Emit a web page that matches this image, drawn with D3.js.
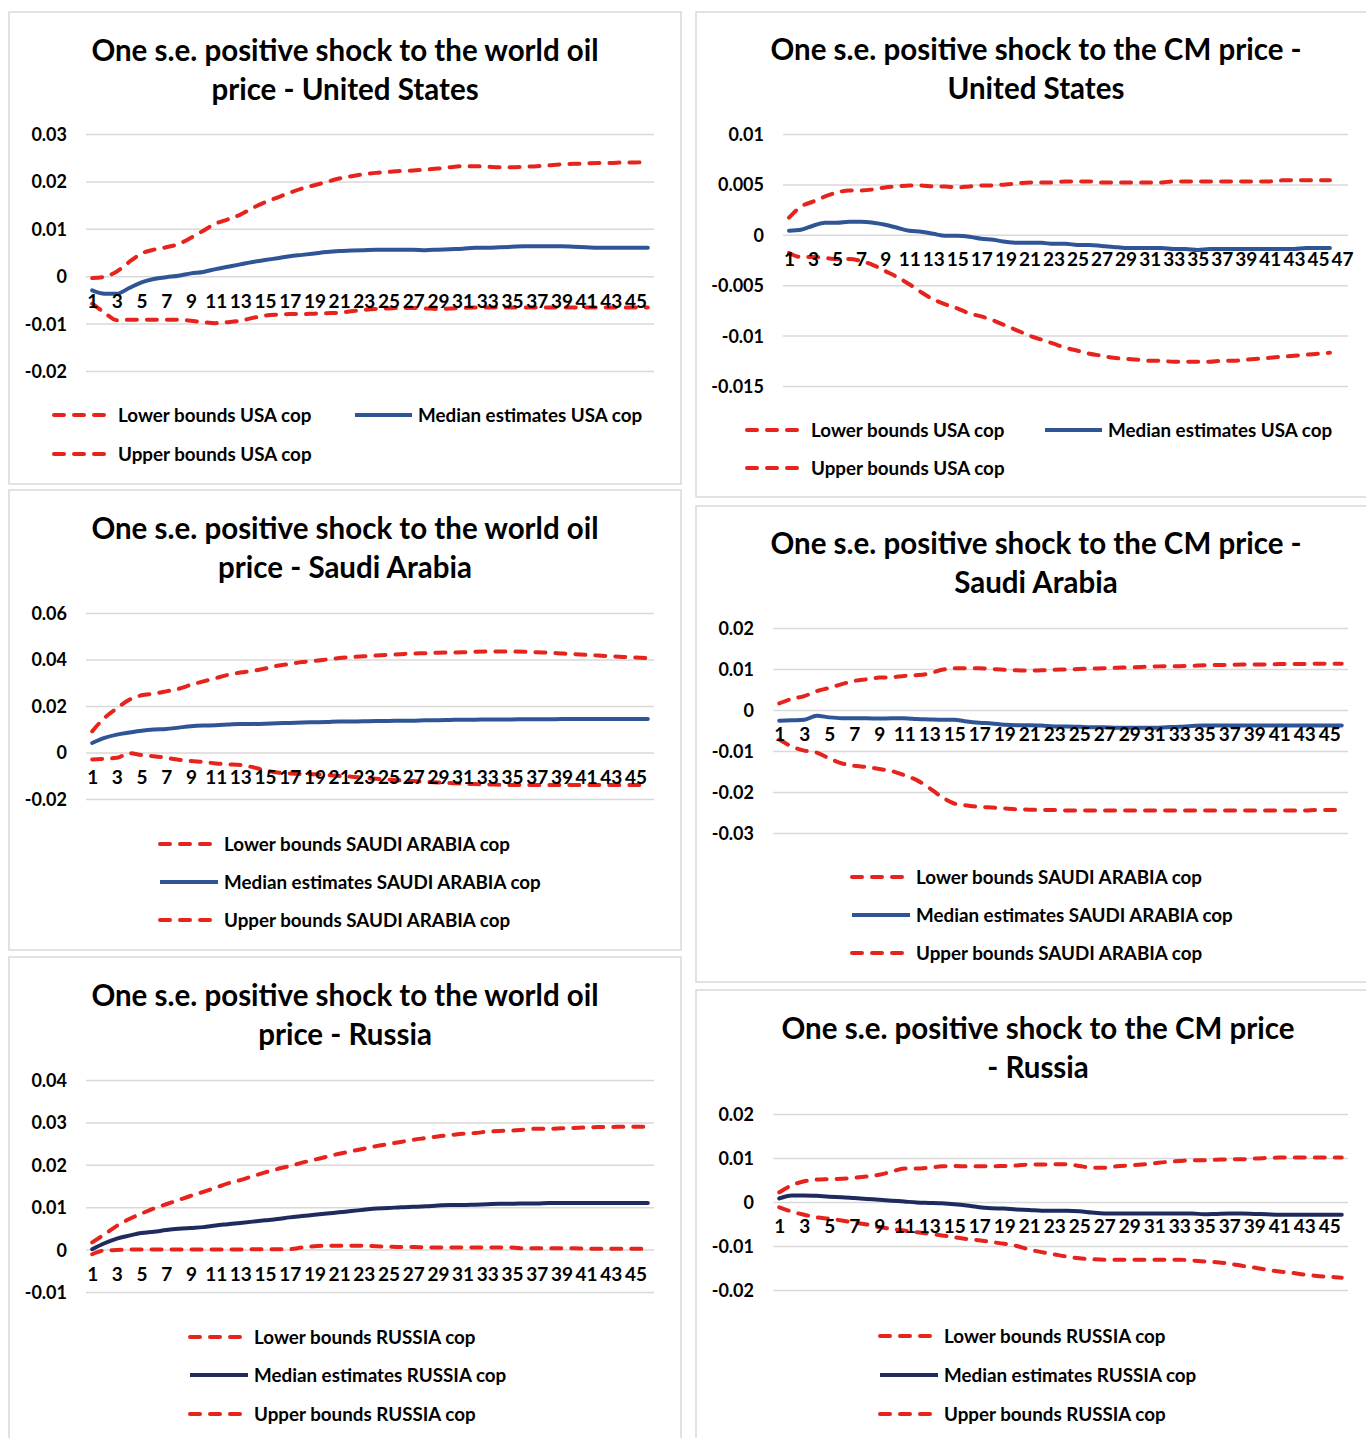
<!DOCTYPE html>
<html>
<head>
<meta charset="utf-8">
<title>Impulse responses - oil and CM price shocks</title>
<script src="https://d3js.org/d3.v7.min.js"></script>
<style>
    body { margin: 0; background: #fff; }
    svg text { font-family: Lato, "Open Sans", sans-serif; font-weight: bold; fill: #000; }
    .frame { fill: #fff; stroke: #d9d9d9; stroke-width: 1.5; }
    .grid line { stroke: #d9d9d9; stroke-width: 1.5; }
    .title { font-size: 29.5px; }
    .ytick { font-size: 18px; }
    .xtick { font-size: 19px; }
    .legend text { font-size: 18.8px; }
</style>
</head>
<body>
<svg id="chart" width="1366" height="1438"></svg>
<script>
// periods 1..46 (the CM / United States panel has a 47-slot axis)
const periods46 = d3.range(1, 47);
const periods47 = d3.range(1, 48);

// world oil shock - United States
const usOilLower = [-0.0058,-0.0077,-0.0093,-0.0092,-0.0092,-0.0092,-0.0092,-0.0092,-0.0094,-0.0097,
    -0.0099,-0.0097,-0.0094,-0.0088,-0.0083,-0.0081,-0.008,-0.008,-0.0079,-0.0078,
    -0.0077,-0.0074,-0.0071,-0.0069,-0.0068,-0.0067,-0.0067,-0.0068,-0.0069,-0.0068,
    -0.0067,-0.0066,-0.0066,-0.0066,-0.0066,-0.0066,-0.0066,-0.0066,-0.0066,-0.0066,
    -0.0066,-0.0066,-0.0066,-0.0066,-0.0066,-0.0066];
const usOilMedian = [-0.003,-0.0037,-0.0037,-0.0025,-0.0013,-0.0006,-0.0002,0.0001,0.0006,0.0009,
    0.0015,0.002,0.0025,0.003,0.0034,0.0038,0.0042,0.0045,0.0048,0.0051,
    0.0053,0.0054,0.0055,0.0056,0.0056,0.0056,0.0056,0.0055,0.0056,0.0057,
    0.0058,0.006,0.006,0.0061,0.0062,0.0063,0.0063,0.0063,0.0063,0.0062,
    0.0061,0.006,0.006,0.006,0.006,0.006];
const usOilUpper = [-0.0004,-0.0001,0.001,0.003,0.0048,0.0056,0.0061,0.0068,0.0081,0.0096,
    0.0111,0.012,0.013,0.0144,0.0156,0.0166,0.0176,0.0185,0.0192,0.0199,
    0.0206,0.0211,0.0215,0.0218,0.022,0.0222,0.0223,0.0225,0.0227,0.023,
    0.0232,0.0232,0.0231,0.023,0.023,0.0231,0.0232,0.0234,0.0236,0.0237,
    0.0238,0.0239,0.0239,0.024,0.024,0.0241];

// CM price shock - United States
const usCmLower = [-0.0018,-0.0022,-0.0022,-0.0023,-0.0024,-0.0024,-0.0026,-0.003,-0.0036,-0.0042,
    -0.0049,-0.0057,-0.0064,-0.0069,-0.0073,-0.0078,-0.0081,-0.0085,-0.009,-0.0095,
    -0.01,-0.0104,-0.0108,-0.0112,-0.0115,-0.0118,-0.012,-0.0122,-0.0123,-0.0124,
    -0.0125,-0.0125,-0.0126,-0.0126,-0.0126,-0.0126,-0.0125,-0.0125,-0.0124,-0.0123,
    -0.0122,-0.0121,-0.012,-0.0119,-0.0118,-0.0117];
const usCmMedian = [0.0004,0.0005,0.0009,0.0012,0.0012,0.0013,0.0013,0.0012,0.001,0.0007,
    0.0004,0.0003,0.0001,-0.0001,-0.0001,-0.0002,-0.0004,-0.0005,-0.0007,-0.0008,
    -0.0008,-0.0008,-0.0009,-0.0009,-0.001,-0.001,-0.0011,-0.0012,-0.0013,-0.0013,
    -0.0013,-0.0013,-0.0014,-0.0014,-0.0015,-0.0014,-0.0014,-0.0014,-0.0014,-0.0014,
    -0.0014,-0.0014,-0.0014,-0.0013,-0.0013,-0.0013];
const usCmUpper = [0.0017,0.0028,0.0033,0.0038,0.0042,0.0044,0.0044,0.0045,0.0047,0.0048,
    0.0049,0.0049,0.0048,0.0048,0.0047,0.0048,0.0049,0.0049,0.005,0.0051,
    0.0052,0.0052,0.0052,0.0053,0.0053,0.0053,0.0052,0.0052,0.0052,0.0052,
    0.0052,0.0052,0.0053,0.0053,0.0053,0.0053,0.0053,0.0053,0.0053,0.0053,
    0.0053,0.0054,0.0054,0.0054,0.0054,0.0054];

// world oil shock - Saudi Arabia
const saOilLower = [-0.003,-0.0027,-0.0023,-0.0003,-0.0011,-0.0016,-0.0023,-0.0031,-0.0037,-0.0041,
    -0.0047,-0.0051,-0.0054,-0.0063,-0.0077,-0.0086,-0.009,-0.0093,-0.0094,-0.0097,
    -0.0101,-0.0104,-0.0109,-0.0113,-0.0117,-0.012,-0.0123,-0.0126,-0.0129,-0.0131,
    -0.0134,-0.0136,-0.0137,-0.0139,-0.014,-0.014,-0.014,-0.014,-0.014,-0.014,
    -0.014,-0.014,-0.014,-0.014,-0.014,-0.014];
const saOilMedian = [0.0041,0.0063,0.0077,0.0086,0.0094,0.0099,0.0101,0.0107,0.0113,0.0116,
    0.0117,0.012,0.0123,0.0123,0.0124,0.0126,0.0127,0.0129,0.013,0.0131,
    0.0133,0.0133,0.0134,0.0136,0.0136,0.0137,0.0137,0.0139,0.0139,0.014,
    0.0141,0.0141,0.0142,0.0142,0.0142,0.0143,0.0143,0.0143,0.0144,0.0144,
    0.0144,0.0144,0.0144,0.0144,0.0144,0.0144];
const saOilUpper = [0.0091,0.0149,0.019,0.0227,0.0246,0.0253,0.0263,0.0274,0.0291,0.0306,
    0.032,0.0334,0.0344,0.0351,0.0361,0.0373,0.0381,0.0389,0.0394,0.04,
    0.0406,0.041,0.0414,0.0417,0.042,0.0423,0.0426,0.0427,0.0429,0.043,
    0.0431,0.0433,0.0434,0.0434,0.0434,0.0433,0.0431,0.0429,0.0426,0.0423,
    0.042,0.0417,0.0414,0.0411,0.0409,0.0406];

// CM price shock - Saudi Arabia
const saCmLower = [-0.0072,-0.0089,-0.0099,-0.0104,-0.0118,-0.013,-0.0136,-0.0139,-0.0144,-0.0149,
    -0.0159,-0.0171,-0.019,-0.0212,-0.0228,-0.0233,-0.0236,-0.0238,-0.024,-0.0242,
    -0.0243,-0.0244,-0.0244,-0.0245,-0.0245,-0.0245,-0.0245,-0.0245,-0.0245,-0.0245,
    -0.0245,-0.0245,-0.0245,-0.0245,-0.0245,-0.0245,-0.0245,-0.0245,-0.0245,-0.0245,
    -0.0245,-0.0245,-0.0245,-0.0244,-0.0244,-0.0244];
const saCmMedian = [-0.0026,-0.0025,-0.0024,-0.0014,-0.0018,-0.002,-0.002,-0.002,-0.0021,-0.002,
    -0.002,-0.0022,-0.0023,-0.0024,-0.0024,-0.0028,-0.0031,-0.0033,-0.0036,-0.0037,
    -0.0037,-0.0038,-0.004,-0.004,-0.0041,-0.0042,-0.0042,-0.0043,-0.0043,-0.0043,
    -0.0043,-0.0042,-0.0041,-0.0039,-0.0038,-0.0038,-0.0038,-0.0038,-0.0038,-0.0038,
    -0.0038,-0.0038,-0.0038,-0.0038,-0.0038,-0.0038];
const saCmUpper = [0.0016,0.0027,0.0034,0.0046,0.0054,0.0063,0.0071,0.0075,0.0079,0.008,
    0.0083,0.0085,0.0089,0.0098,0.0102,0.0102,0.0102,0.01,0.0098,0.0097,
    0.0096,0.0097,0.0098,0.0099,0.01,0.0101,0.0102,0.0103,0.0104,0.0105,
    0.0106,0.0107,0.0107,0.0108,0.0109,0.011,0.011,0.0111,0.0111,0.0111,
    0.0112,0.0112,0.0112,0.0113,0.0113,0.0113];

// world oil shock - Russia
const ruOilLower = [-0.0011,-0.0002,-0.0001,0,0,0,0,0,0,0,
    0,0,0,0.0001,0.0001,0.0001,0.0001,0.0005,0.0008,0.0009,
    0.0009,0.0009,0.0009,0.0008,0.0007,0.0006,0.0006,0.0005,0.0005,0.0005,
    0.0005,0.0005,0.0005,0.0005,0.0005,0.0003,0.0003,0.0003,0.0003,0.0003,
    0.0002,0.0002,0.0002,0.0002,0.0002,0.0001];
const ruOilMedian = [0.0001,0.0015,0.0026,0.0033,0.0039,0.0042,0.0046,0.0049,0.0051,0.0053,
    0.0057,0.006,0.0063,0.0066,0.0069,0.0072,0.0076,0.0079,0.0082,0.0085,
    0.0088,0.0091,0.0094,0.0097,0.0098,0.01,0.0101,0.0102,0.0104,0.0105,
    0.0105,0.0106,0.0107,0.0108,0.0108,0.0109,0.0109,0.011,0.011,0.011,
    0.011,0.011,0.011,0.011,0.011,0.011];
const ruOilUpper = [0.0017,0.0036,0.0056,0.0072,0.0085,0.0097,0.0107,0.0117,0.0127,0.0136,
    0.0146,0.0156,0.0164,0.0173,0.0182,0.019,0.0197,0.0205,0.0212,0.0219,
    0.0226,0.0232,0.0238,0.0244,0.0249,0.0254,0.0259,0.0263,0.0267,0.027,
    0.0273,0.0275,0.0278,0.028,0.0281,0.0283,0.0285,0.0285,0.0286,0.0287,
    0.0288,0.0289,0.0289,0.029,0.029,0.029];

// CM price shock - Russia
const ruCmLower = [-0.0012,-0.0022,-0.0029,-0.0035,-0.0038,-0.0042,-0.0047,-0.0051,-0.0057,-0.0061,
    -0.0065,-0.0069,-0.0072,-0.0076,-0.008,-0.0084,-0.0087,-0.0091,-0.0095,-0.01,
    -0.0108,-0.0114,-0.0119,-0.0124,-0.0128,-0.013,-0.0131,-0.0131,-0.0131,-0.0131,
    -0.0131,-0.0131,-0.0131,-0.0133,-0.0135,-0.0137,-0.014,-0.0145,-0.0149,-0.0154,
    -0.0158,-0.0161,-0.0165,-0.0168,-0.017,-0.0172];
const ruCmMedian = [0.0008,0.0015,0.0015,0.0014,0.0012,0.0011,0.0009,0.0007,0.0005,0.0003,
    0.0001,-0.0001,-0.0002,-0.0003,-0.0005,-0.0008,-0.0012,-0.0014,-0.0015,-0.0017,
    -0.0018,-0.002,-0.002,-0.002,-0.0021,-0.0024,-0.0026,-0.0026,-0.0026,-0.0026,
    -0.0026,-0.0026,-0.0026,-0.0026,-0.0028,-0.0027,-0.0026,-0.0026,-0.0027,-0.0028,
    -0.0029,-0.0029,-0.0029,-0.0029,-0.0029,-0.0029];
const ruCmUpper = [0.0022,0.0038,0.0047,0.0051,0.0052,0.0053,0.0055,0.0058,0.0062,0.0069,
    0.0076,0.0076,0.0078,0.0081,0.0082,0.0081,0.0081,0.0081,0.0082,0.0083,
    0.0085,0.0085,0.0086,0.0086,0.0082,0.0078,0.0078,0.0081,0.0083,0.0085,
    0.0088,0.0091,0.0093,0.0095,0.0095,0.0096,0.0097,0.0097,0.0099,0.01,
    0.0101,0.0101,0.0101,0.0101,0.0101,0.0101];

// y tick labels of each panel
const usOilTicks = [-0.02, -0.01, 0, 0.01, 0.02, 0.03];
const usCmTicks = [-0.015, -0.01, -0.005, 0, 0.005, 0.01];
const saOilTicks = [-0.02, 0, 0.02, 0.04, 0.06];
const saCmTicks = [-0.03, -0.02, -0.01, 0, 0.01, 0.02];
const ruOilTicks = [-0.01, 0, 0.01, 0.02, 0.03, 0.04];
const ruCmTicks = [-0.02, -0.01, 0, 0.01, 0.02];

const red = "#e6231c";
const blue = "#2f5597";
const navy = "#1f2b5e";

const panels = [
    { frame: [9, 12, 672, 472], title: ["One s.e. positive shock to the world oil", "price - United States"], titleX: 345, titleY: 61,
      plot: [86, 134, 654, 371], ticks: usOilTicks, cats: periods46, country: "USA", medianColor: blue,
      series: [usOilLower, usOilMedian, usOilUpper],
      legend: [[52, 415, 118], [353, 415, 418], [52, 454, 118]] },
    { frame: [696, 12, 680, 485], title: ["One s.e. positive shock to the CM price -", "United States"], titleX: 1036, titleY: 60,
      plot: [783, 134, 1348, 386], ticks: usCmTicks, cats: periods47, country: "USA", medianColor: blue,
      series: [usCmLower, usCmMedian, usCmUpper],
      legend: [[745, 430, 811], [1043, 430, 1108], [745, 468, 811]] },
    { frame: [9, 490, 672, 460], title: ["One s.e. positive shock to the world oil", "price - Saudi Arabia"], titleX: 345, titleY: 539,
      plot: [86, 613, 654, 799], ticks: saOilTicks, cats: periods46, country: "SAUDI ARABIA", medianColor: blue,
      series: [saOilLower, saOilMedian, saOilUpper],
      legend: [[158, 844, 224], [158, 882, 224], [158, 920, 224]] },
    { frame: [696, 506, 680, 476], title: ["One s.e. positive shock to the CM price -", "Saudi Arabia"], titleX: 1036, titleY: 554,
      plot: [773, 628, 1348, 833], ticks: saCmTicks, cats: periods46, country: "SAUDI ARABIA", medianColor: blue,
      series: [saCmLower, saCmMedian, saCmUpper],
      legend: [[850, 877, 916], [850, 915, 916], [850, 953, 916]] },
    { frame: [9, 957, 672, 500], title: ["One s.e. positive shock to the world oil", "price - Russia"], titleX: 345, titleY: 1006,
      plot: [86, 1080, 654, 1292], ticks: ruOilTicks, cats: periods46, country: "RUSSIA", medianColor: navy,
      series: [ruOilLower, ruOilMedian, ruOilUpper],
      legend: [[188, 1337, 254], [188, 1375, 254], [188, 1414, 254]] },
    { frame: [696, 990, 680, 470], title: ["One s.e. positive shock to the CM price", "- Russia"], titleX: 1038, titleY: 1039,
      plot: [773, 1114, 1348, 1290], ticks: ruCmTicks, cats: periods46, country: "RUSSIA", medianColor: navy,
      series: [ruCmLower, ruCmMedian, ruCmUpper],
      legend: [[878, 1336, 944], [878, 1375, 944], [878, 1414, 944]] }
];

const svg = d3.select("#chart");
const fmt = d => String(+d.toFixed(3));

panels.forEach(p => {
    const g = svg.append("g");
    const [fx, fy, fw, fh] = p.frame;
    g.append("rect").attr("class", "frame").attr("x", fx).attr("y", fy).attr("width", fw).attr("height", fh);

    g.selectAll(".title").data(p.title).enter().append("text")
        .attr("class", "title")
        .attr("x", p.titleX)
        .attr("y", (d, i) => p.titleY + i * 39)
        .attr("text-anchor", "middle")
        .text(d => d);

    const [x0, yTop, x1, yBot] = p.plot;
    const x = d3.scalePoint().domain(p.cats).range([x0, x1]).padding(0.5);
    const y = d3.scaleLinear().domain(d3.extent(p.ticks)).range([yBot, yTop]);

    // gridlines + y labels
    const yAxis = g.append("g")
        .attr("class", "grid")
        .attr("transform", `translate(${x0},0)`)
        .call(d3.axisLeft(y).tickValues(p.ticks).tickFormat(fmt).tickSize(-(x1 - x0)).tickPadding(19));
    yAxis.select(".domain").remove();
    yAxis.selectAll("text").attr("class", "ytick").attr("dy", "0.36em");

    const line = d3.line()
        .x((d, i) => x(p.cats[i]))
        .y(d => y(d))
        .curve(d3.curveMonotoneX);

    const styles = [
        { color: red, dash: "10,10" },
        { color: p.medianColor, dash: null },
        { color: red, dash: "10,10" }
    ];

    [0, 2, 1].forEach(k => {
        g.append("path")
            .datum(p.series[k])
            .attr("fill", "none")
            .attr("stroke", styles[k].color)
            .attr("stroke-width", 4)
            .attr("stroke-linecap", "round")
            .attr("stroke-linejoin", "round")
            .attr("stroke-dasharray", styles[k].dash)
            .attr("d", line);
    });

    // category labels sit just under the zero line
    const xAxis = g.append("g")
        .attr("transform", `translate(0,${y(0)})`)
        .call(d3.axisBottom(x).tickValues(p.cats.filter(c => c % 2 === 1)).tickSize(0).tickPadding(18));
    xAxis.select(".domain").remove();
    xAxis.selectAll("text").attr("class", "xtick");

    // legend
    const names = ["Lower bounds " + p.country + " cop", "Median estimates " + p.country + " cop", "Upper bounds " + p.country + " cop"];
    const lg = g.append("g").attr("class", "legend");
    p.legend.forEach(([sx, sy, tx], k) => {
        const end = k === 1 ? tx - 4 : sx + 56;
        lg.append("line")
            .attr("x1", sx + 2).attr("x2", end - 2)
            .attr("y1", sy).attr("y2", sy)
            .attr("stroke", styles[k].color)
            .attr("stroke-width", 4)
            .attr("stroke-linecap", k === 1 ? "butt" : "round")
            .attr("stroke-dasharray", styles[k].dash);
        lg.append("text")
            .attr("x", tx).attr("y", sy + 7)
            .text(names[k]);
    });
});
</script>
</body>
</html>
